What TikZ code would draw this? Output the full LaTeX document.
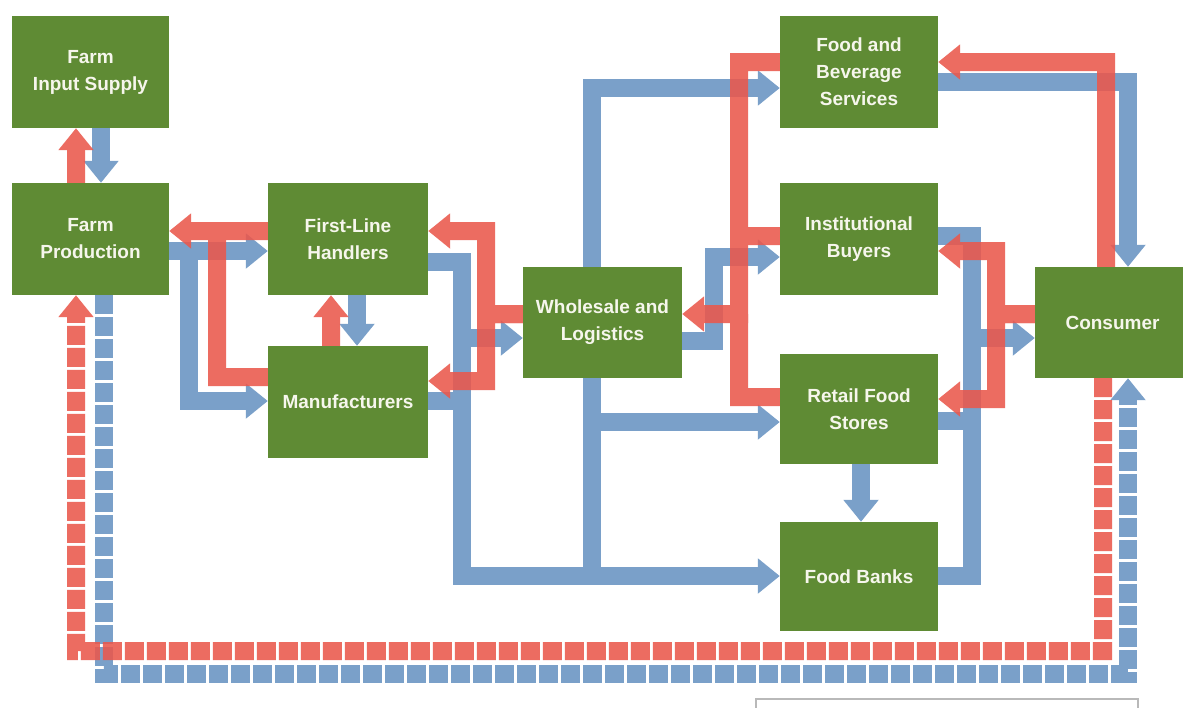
\documentclass[tikz,border=0pt]{standalone}
\usepackage{fontspec}
\setmainfont{Liberation Sans}
\usetikzlibrary{arrows.meta}
\definecolor{boxgreen}{RGB}{95,139,52}
\definecolor{flowred}{RGB}{234,88,76}
\definecolor{flowblue}{RGB}{122,160,201}
\definecolor{boxtext}{RGB}{246,246,236}
\begin{document}
\begin{tikzpicture}[x=1pt,y=-1pt,
 box/.style={rectangle, fill=boxgreen, inner sep=0pt, text=boxtext, align=center,
   font=\fontsize{19}{27}\selectfont\bfseries},
 rflow/.style={draw=flowred, line width=18pt},
 bflow/.style={draw=flowblue, line width=18pt},
 headed/.style={-{Triangle[width=34pt,length=22pt]}},
 seg/.style={dash pattern=on 19pt off 3pt}
]
\useasboundingbox (0,0) rectangle (1183,707);
\clip (0,0) rectangle (1183,707);
\fill[white] (0,0) rectangle (1183,707);

% boxes
\node[box, minimum width=157pt, minimum height=112pt] (fis) at (90.5,72) {Farm\\Input Supply};
\node[box, minimum width=157pt, minimum height=112pt] (fp) at (90.5,239) {Farm\\Production};
\node[box, minimum width=160pt, minimum height=112pt] (flh) at (348,239) {First-Line\\Handlers};
\node[box, minimum width=160pt, minimum height=112pt] (man) at (348,402) {Manufacturers};
\node[box, minimum width=159pt, minimum height=111pt] (wl) at (602.5,322.5) {Wholesale and\\Logistics};
\node[box, minimum width=158pt, minimum height=112pt] (fbs) at (859,72) {Food and\\Beverage\\Services};
\node[box, minimum width=158pt, minimum height=112pt] (ib) at (859,239) {Institutional\\Buyers};
\node[box, minimum width=158pt, minimum height=110pt] (rfs) at (859,409) {Retail Food\\Stores};
\node[box, minimum width=158pt, minimum height=109pt] (fb) at (859,576.5) {Food Banks};
\node[box, minimum width=155pt, minimum height=111pt] (con) at (1112.5,322.5) {Consumer};
\node[draw=gray!55, line width=1.5pt, minimum width=382pt, minimum height=40pt, anchor=north west] (note) at (755,698) {};

% column / row guides
\coordinate (X76) at (76,0);   \coordinate (X101) at (101,0); \coordinate (X104) at (104,0);
\coordinate (X189) at (189,0); \coordinate (X217) at (217,0); \coordinate (X331) at (331,0);
\coordinate (X357) at (357,0); \coordinate (X462) at (462,0); \coordinate (X486) at (486,0);
\coordinate (X592) at (592,0); \coordinate (X714) at (714,0); \coordinate (X739) at (739,0);
\coordinate (X861) at (861,0); \coordinate (X972) at (972,0); \coordinate (X996) at (996,0);
\coordinate (X1103) at (1103,0); \coordinate (X1106) at (1106,0); \coordinate (X1128) at (1128,0);
\coordinate (Y62) at (0,62);   \coordinate (Y82) at (0,82);   \coordinate (Y88) at (0,88);
\coordinate (Y231) at (0,231); \coordinate (Y236) at (0,236); \coordinate (Y251) at (0,251);
\coordinate (Y257) at (0,257); \coordinate (Y262) at (0,262); \coordinate (Y314) at (0,314);
\coordinate (Y338) at (0,338); \coordinate (Y341) at (0,341); \coordinate (Y377) at (0,377);
\coordinate (Y381) at (0,381); \coordinate (Y397) at (0,397); \coordinate (Y399) at (0,399);
\coordinate (Y401) at (0,401); \coordinate (Y421) at (0,421); \coordinate (Y422) at (0,422);
\coordinate (Y576) at (0,576); \coordinate (Y651) at (0,651); \coordinate (Y674) at (0,674);

% blue flows
\draw[bflow, headed] (fis.south -| X101) -- (fp.north -| X101);
\draw[bflow, headed] (fp.east |- Y251) -- (flh.west |- Y251);
\draw[bflow, headed] (fp.east |- Y251) -| (X189 |- Y401) -- (man.west |- Y401);
\draw[bflow, headed] (flh.south -| X357) -- (man.north -| X357);
\draw[bflow, headed] (flh.east |- Y262) -| (X462 |- Y576) -- (fb.west |- Y576);
\draw[bflow] (man.east |- Y401) -- (X462 |- Y401);
\draw[bflow, headed] (X462 |- Y338) -- (wl.west |- Y338);
\draw[bflow, headed] (wl.north -| X592) |- (fbs.west |- Y88);
\draw[bflow] (wl.south -| X592) -- (X592 |- Y576);
\draw[bflow, headed] (X592 |- Y422) -- (rfs.west |- Y422);
\draw[bflow, headed] (wl.east |- Y341) -| (X714 |- Y257) -- (ib.west |- Y257);
\draw[bflow, headed] (fbs.east |- Y82) -| (con.north -| X1128);
\draw[bflow, headed] (ib.east |- Y236) -| (X972 |- Y338) -- (con.west |- Y338);
\draw[bflow] (fb.east |- Y576) -| (X972 |- Y338);
\draw[bflow] (rfs.east |- Y421) -- (X972 |- Y421);
\draw[bflow, headed] (rfs.south -| X861) -- (fb.north -| X861);
\draw[bflow, seg, headed] (fp.south -| X104) |- (Y674 -| X1128) -- (con.south -| X1128);

% red flows
\begin{scope}[transparency group, opacity=0.88]
\draw[rflow, headed] (fp.north -| X76) -- (fis.south -| X76);
\draw[rflow, headed] (flh.west |- Y231) -- (fp.east |- Y231);
\draw[rflow] (man.west |- Y377) -| (X217 |- Y231);
\draw[rflow, headed] (man.north -| X331) -- (flh.south -| X331);
\draw[rflow, headed] (wl.west |- Y314) -| (X486 |- Y231) -- (flh.east |- Y231);
\draw[rflow, headed] (wl.west |- Y314) -| (X486 |- Y381) -- (man.east |- Y381);
\draw[rflow, headed] (fbs.west |- Y62) -| (X739 |- Y314) -- (wl.east |- Y314);
\draw[rflow] (ib.west |- Y236) -- (X739 |- Y236);
\draw[rflow] (rfs.west |- Y397) -| (X739 |- Y314);
\draw[rflow, headed] (con.north -| X1106) |- (fbs.east |- Y62);
\draw[rflow, headed] (con.west |- Y314) -| (X996 |- Y251) -- (ib.east |- Y251);
\draw[rflow, headed] (con.west |- Y314) -| (X996 |- Y399) -- (rfs.east |- Y399);
\draw[rflow, seg, headed] (con.south -| X1103) |- (Y651 -| X76) -- (fp.south -| X76);
\end{scope}
\end{tikzpicture}
\end{document}
